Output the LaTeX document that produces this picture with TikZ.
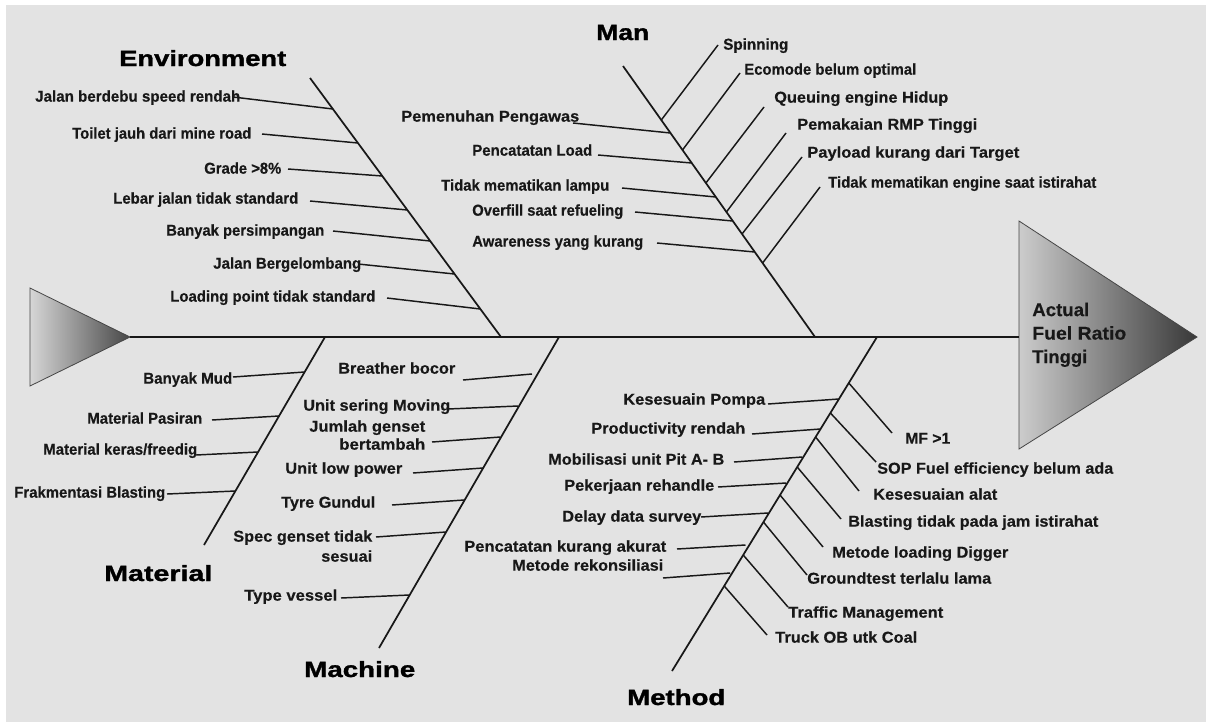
\documentclass[tikz,border=0pt]{standalone}
\usepackage{fontspec}
\setmainfont{Liberation Sans}
\newfontfamily\heavyfam[FakeBold=1.2]{Liberation Sans Bold}
\newfontfamily\labfam[FakeBold=0.35]{Liberation Sans Bold}
\usepackage{graphicx}
\usetikzlibrary{calc}
\newlength\pxu \setlength\pxu{0.75pt}
\newcommand\fw[2]{\resizebox{#1\pxu}{\height}{#2}}
\definecolor{bg}{HTML}{E3E3E3}
\definecolor{ink}{HTML}{181818}
\tikzset{
  lab/.style={anchor=west, inner sep=0pt, text height=8.5pt, text depth=0pt, text=ink,
    font=\fontsize{11.8pt}{13.5pt}\selectfont\labfam},
  ttl/.style={anchor=west, inner sep=0pt, text height=12pt, text depth=0pt, text=black,
    font=\fontsize{16.5pt}{19pt}\selectfont\heavyfam},
  rib/.style={draw=ink, line width=1.1pt},
  bone/.style={draw=ink, line width=1.3pt},
  head/.style={draw=ink!80, line width=0.6pt}
}
\begin{document}
\begin{tikzpicture}[x=0.75pt,y=-0.75pt]
\useasboundingbox (0,0) rectangle (1206,722);
\fill[white] (0,0) rectangle (1206,722);
\fill[bg] (6,5) rectangle (1206,722);

% ---------- tail and head triangles ----------
\coordinate (tl1) at (30,288); \coordinate (tl2) at (30,386); \coordinate (tlt) at (130,337);
\shade[left color=black!16, middle color=black!33, right color=black!72] (tl1) -- (tlt) -- (tl2) -- cycle;
\draw[head] (tl1) -- (tlt) -- (tl2) -- cycle;
\coordinate (hd1) at (1019,221); \coordinate (hd2) at (1019,449); \coordinate (hdt) at (1197,337);
\coordinate (hdl) at (1019,337);
\shade[left color=black!20, middle color=black!34, right color=black!78] (hd1) -- (hdt) -- (hd2) -- cycle;
\draw[head] (hd1) -- (hdt) -- (hd2) -- cycle;
\node[anchor=north west, inner sep=0pt, align=left, text=ink,
  font=\fontsize{13.8pt}{17.6pt}\selectfont\labfam] (effect) at (1032,302.5)
  {\fw{57}{Actual}\\\fw{94}{Fuel Ratio}\\\fw{55}{Tinggi}};

% ---------- spine ----------
\draw[bone] (tlt) -- (hdl);

% ---------- bones ----------
\coordinate (envT) at (310,78);  \coordinate (envB) at (501,337);
\coordinate (manT) at (623,66);  \coordinate (manB) at (815,337);
\coordinate (matT) at (325,337); \coordinate (matB) at (204,545);
\coordinate (macT) at (559,337); \coordinate (macB) at (379,648);
\coordinate (metT) at (877,337); \coordinate (metB) at (672,671);
\draw[bone] (envT) -- (envB);
\draw[bone] (manT) -- (manB);
\draw[bone] (matT) -- (matB);
\draw[bone] (macT) -- (macB);
\draw[bone] (metT) -- (metB);

% ---------- titles ----------
\node[ttl] (tEnv) at (119,58) {\fw{167}{Environment}};
\node[ttl] (tMan) at (596,32) {\fw{53}{Man}};
\node[ttl] (tMat) at (104,573) {\fw{108}{Material}};
\node[ttl] (tMac) at (304,669) {\fw{111}{Machine}};
\node[ttl] (tMet) at (627,697) {\fw{98}{Method}};

% ---------- Environment ----------
\node[lab] (e1) at (35,96)  {\fw{205}{Jalan berdebu speed rendah}};
\node[lab] (e2) at (72,133) {\fw{179}{Toilet jauh dari mine road}};
\node[lab] (e3) at (204,168){\fw{77}{Grade >8\%}};
\node[lab] (e4) at (113,198){\fw{185}{Lebar jalan tidak standard}};
\node[lab] (e5) at (166,230){\fw{158}{Banyak persimpangan}};
\node[lab] (e6) at (213,263){\fw{148}{Jalan Bergelombang}};
\node[lab] (e7) at (170,296){\fw{205}{Loading point tidak standard}};
\coordinate (e1s) at (233,97);  \coordinate (e1b) at (332.9,109);
\coordinate (e2s) at (262,134); \coordinate (e2b) at (357.9,143);
\coordinate (e3s) at (288,169); \coordinate (e3b) at (382.3,176);
\coordinate (e4s) at (310,201); \coordinate (e4b) at (407.4,210);
\coordinate (e5s) at (333,231); \coordinate (e5b) at (430.2,241);
\coordinate (e6s) at (358,264); \coordinate (e6b) at (454.6,274);
\coordinate (e7s) at (387,298); \coordinate (e7b) at (480.4,309);
\foreach \i in {1,...,7} {\draw[rib] (e\i s) -- (e\i b);}

% ---------- Man (left) ----------
\node[lab] (m1) at (401,116) {\fw{178}{Pemenuhan Pengawas}};
\node[lab] (m2) at (472,150) {\fw{120}{Pencatatan Load}};
\node[lab] (m3) at (441,185) {\fw{168}{Tidak mematikan lampu}};
\node[lab] (m4) at (472,210) {\fw{151}{Overfill saat refueling}};
\node[lab] (m5) at (472,241) {\fw{171}{Awareness yang kurang}};
\coordinate (m1s) at (573,123); \coordinate (m1b) at (670.5,133);
\coordinate (m2s) at (598,155); \coordinate (m2b) at (691.7,163);
\coordinate (m3s) at (622,188); \coordinate (m3b) at (715.8,197);
\coordinate (m4s) at (635,212); \coordinate (m4b) at (732.8,221);
\coordinate (m5s) at (657,243); \coordinate (m5b) at (754.8,252);
\foreach \i in {1,...,5} {\draw[rib] (m\i s) -- (m\i b);}

% ---------- Man (right) ----------
\node[lab] (n1) at (723,44)  {\fw{65}{Spinning}};
\node[lab] (n2) at (744,69)  {\fw{172}{Ecomode belum optimal}};
\node[lab] (n3) at (774,97)  {\fw{174}{Queuing engine Hidup}};
\node[lab] (n4) at (797,124) {\fw{180}{Pemakaian RMP Tinggi}};
\node[lab] (n5) at (807,152) {\fw{212}{Payload kurang dari Target}};
\node[lab] (n6) at (828,182) {\fw{268}{Tidak mematikan engine saat istirahat}};
\coordinate (n1b) at (661.3,120); \coordinate (n1e) at (718,45);
\coordinate (n2b) at (682.5,150); \coordinate (n2e) at (740,73);
\coordinate (n3b) at (705.9,183); \coordinate (n3e) at (764,107);
\coordinate (n4b) at (726.4,212); \coordinate (n4e) at (786,133);
\coordinate (n5b) at (742,234);   \coordinate (n5e) at (802,157);
\coordinate (n6b) at (762.6,263); \coordinate (n6e) at (820,187);
\foreach \i in {1,...,6} {\draw[rib] (n\i b) -- (n\i e);}

% ---------- Material ----------
\node[lab] (a1) at (143,378) {\fw{89}{Banyak Mud}};
\node[lab] (a2) at (87,418)  {\fw{115}{Material Pasiran}};
\node[lab] (a3) at (43,449)  {\fw{154}{Material keras/freedig}};
\node[lab] (a4) at (14,492)  {\fw{151}{Frakmentasi Blasting}};
\coordinate (a1s) at (233,377); \coordinate (a1b) at (304.6,372);
\coordinate (a2s) at (212,420); \coordinate (a2b) at (279,416);
\coordinate (a3s) at (196,455); \coordinate (a3b) at (258.1,452);
\coordinate (a4s) at (167,494); \coordinate (a4b) at (235.4,491);
\foreach \i in {1,...,4} {\draw[rib] (a\i s) -- (a\i b);}

% ---------- Machine ----------
\node[lab] (c1) at (338,368) {\fw{117}{Breather bocor}};
\node[lab] (c2) at (303,405) {\fw{147}{Unit sering Moving}};
\node[lab] (c3) at (309,426) {\fw{116}{Jumlah genset}};
\node[lab] (c3x) at (339,444) {\fw{86}{bertambah}};
\node[lab] (c4) at (285,468) {\fw{117}{Unit low power}};
\node[lab] (c5) at (281,502) {\fw{94}{Tyre Gundul}};
\node[lab] (c6) at (233,536) {\fw{139}{Spec genset tidak}};
\node[lab] (c6x) at (321,556) {\fw{51}{sesuai}};
\node[lab] (c7) at (244,595) {\fw{93}{Type vessel}};
\coordinate (c1s) at (463,380); \coordinate (c1b) at (532,374);
\coordinate (c2s) at (448,409); \coordinate (c2b) at (518,406);
\coordinate (c3s) at (432,442); \coordinate (c3b) at (500.5,437);
\coordinate (c4s) at (413,473); \coordinate (c4b) at (483,468);
\coordinate (c5s) at (392,505); \coordinate (c5b) at (464,500);
\coordinate (c6s) at (376,537); \coordinate (c6b) at (446,532);
\coordinate (c7s) at (341,598); \coordinate (c7b) at (409.5,595);
\foreach \i in {1,...,7} {\draw[rib] (c\i s) -- (c\i b);}

% ---------- Method (left) ----------
\node[lab] (t1) at (623,399) {\fw{142}{Kesesuain Pompa}};
\node[lab] (t2) at (591,428) {\fw{154}{Productivity rendah}};
\node[lab] (t3) at (548,459) {\fw{176}{Mobilisasi unit Pit A- B}};
\node[lab] (t4) at (564,485) {\fw{150}{Pekerjaan rehandle}};
\node[lab] (t5) at (562,516) {\fw{139}{Delay data survey}};
\node[lab] (t6) at (464,546) {\fw{202}{Pencatatan kurang akurat}};
\node[lab] (t7) at (512,565) {\fw{151}{Metode rekonsiliasi}};
\coordinate (t1s) at (768,404); \coordinate (t1b) at (838.9,399);
\coordinate (t2s) at (752,434); \coordinate (t2b) at (820.5,429);
\coordinate (t3s) at (734,462); \coordinate (t3b) at (802.3,457);
\coordinate (t4s) at (718,487); \coordinate (t4b) at (786.1,483);
\coordinate (t5s) at (701,517); \coordinate (t5b) at (768,513);
\coordinate (t6s) at (677,549); \coordinate (t6b) at (745.5,545);
\coordinate (t7s) at (663,578); \coordinate (t7b) at (730.2,573);
\foreach \i in {1,...,7} {\draw[rib] (t\i s) -- (t\i b);}

% ---------- Method (right) ----------
\node[lab] (r1) at (905,438) {\fw{45}{MF >1}};
\node[lab] (r2) at (877,468) {\fw{236}{SOP Fuel efficiency belum ada}};
\node[lab] (r3) at (873,494) {\fw{124}{Kesesuaian alat}};
\node[lab] (r4) at (848,521) {\fw{250}{Blasting tidak pada jam istirahat}};
\node[lab] (r5) at (832,552) {\fw{176}{Metode loading Digger}};
\node[lab] (r6) at (807,578) {\fw{184}{Groundtest terlalu lama}};
\node[lab] (r7) at (788,612) {\fw{155}{Traffic Management}};
\node[lab] (r8) at (775,637) {\fw{142}{Truck OB utk Coal}};
\coordinate (r1b) at (848.8,383); \coordinate (r1e) at (892,433);
\coordinate (r2b) at (830.4,413); \coordinate (r2e) at (876,462);
\coordinate (r3b) at (815.6,437); \coordinate (r3e) at (859,491);
\coordinate (r4b) at (797.2,467); \coordinate (r4e) at (841,519);
\coordinate (r5b) at (780,495);   \coordinate (r5e) at (823,547);
\coordinate (r6b) at (763.4,522); \coordinate (r6e) at (807,575);
\coordinate (r7b) at (743.2,555); \coordinate (r7e) at (788,607);
\coordinate (r8b) at (724.2,586); \coordinate (r8e) at (767,635);
\foreach \i in {1,...,8} {\draw[rib] (r\i b) -- (r\i e);}
\end{tikzpicture}
\end{document}
